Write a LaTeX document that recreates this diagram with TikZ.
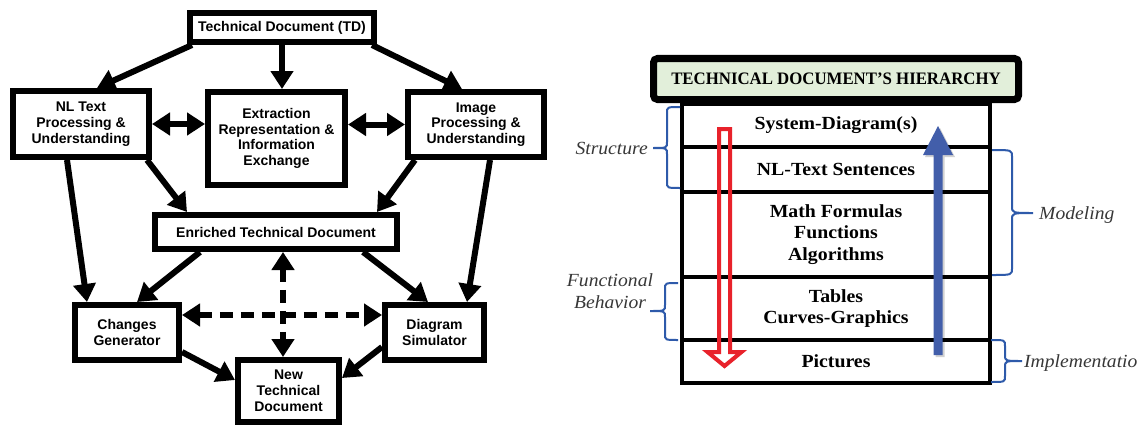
\documentclass[tikz,border=0pt]{standalone}
\usepackage{fontspec}
\setmainfont{Liberation Sans}
\newfontfamily\rowfont{Liberation Serif}[FakeStretch=1.07]
\newfontfamily\titlefont{Liberation Serif}[FakeStretch=0.96]
\newfontfamily\labfont{Liberation Serif}[FakeStretch=1.06]
\usetikzlibrary{arrows.meta}
\definecolor{titlegreen}{RGB}{226,239,218}
\definecolor{arrowred}{RGB}{232,34,43}
\definecolor{arrowblue}{RGB}{66,94,170}
\definecolor{bracec}{RGB}{46,90,170}
\definecolor{labgray}{RGB}{55,55,55}
\begin{document}
\begin{tikzpicture}[x=1pt,y=-1pt,
  box/.style={draw, line width=6pt, fill=white, align=center, inner sep=0pt,
    font=\bfseries\fontsize{14}{15.8}\selectfont},
  con/.style={line width=6pt, -{Triangle[length=18pt,width=22pt]}},
  dcon/.style={line width=6pt, {Triangle[length=18pt,width=22pt]}-{Triangle[length=18pt,width=22pt]}},
  dashcon/.style={dcon, dash pattern=on 13pt off 8pt},
  rowbox/.style={draw, line width=3.5pt, minimum width=308pt, inner sep=0pt, align=center,
    font=\rowfont\bfseries\fontsize{18.5}{21.5}\selectfont},
  brc/.style={draw=bracec, line width=2pt},
  lab/.style={inner sep=0pt, text=labgray, align=center,
    font=\labfont\itshape\fontsize{18.5}{22}\selectfont}
]
\useasboundingbox (0,0) rectangle (1147,428);
\fill[white] (0,0) rectangle (1147,428);

% ---------- left diagram ----------
\node[box, minimum width=184pt, minimum height=29pt] (td) at (282,27.5) {Technical Document (TD)};
\node[box, minimum width=136pt, minimum height=66pt] (nl) at (81,124) {NL Text\\Processing \&\\Understanding};
\node[box, minimum width=137pt, minimum height=93pt] (ext) at (276.5,138.5) {Extraction\\Representation \&\\Information\\Exchange};
\node[box, minimum width=136pt, minimum height=65pt] (img) at (476,124.5) {Image\\Processing \&\\Understanding};
\node[box, minimum width=242pt, minimum height=34pt] (enr) at (276,232) {Enriched Technical Document};
\node[box, minimum width=104pt, minimum height=55pt] (chg) at (127,332.5) {Changes\\Generator};
\node[box, minimum width=99pt, minimum height=55pt] (dia) at (434.5,332.5) {Diagram\\Simulator};
\node[box, minimum width=101pt, minimum height=62pt] (new) at (288.5,391) {New\\Technical\\Document};

\draw[con] ([xshift=5pt]td.south west) -- ([xshift=16pt]nl.north);
\draw[con] (td.south) -- (td.south |- ext.north);
\draw[con] ([xshift=-5pt]td.south east) -- ([xshift=-14pt]img.north);
\draw[dcon] (nl.east) -- (nl.east -| ext.west);
\draw[dcon] (img.west -| ext.east) -- (img.west);
\draw[con] ([xshift=-5pt]nl.south east) -- ([xshift=35pt]enr.north west);
\draw[con] ([xshift=10pt]img.south west) -- ([xshift=-23pt]enr.north east);
\draw[con] ([xshift=-14pt]nl.south) -- ([xshift=15pt]chg.north west);
\draw[con] ([xshift=14pt]img.south) -- ([xshift=-20pt]dia.north east);
\draw[con] ([xshift=48pt]enr.south west) -- ([xshift=10pt]chg.north);
\draw[con] ([xshift=-37pt]enr.south east) -- ([xshift=-6.5pt]dia.north);
\draw[con] ([yshift=11pt]chg.south east) -- ([yshift=11pt]new.west);
\draw[con] ([yshift=16pt]dia.south west) -- ([yshift=13pt]new.east);
\draw[dashcon] ([yshift=17.5pt]chg.east) -- ([yshift=17.5pt]dia.west);
\draw[dashcon] ([xshift=7pt]enr.south) -- ([xshift=-5.5pt]new.north);

% ---------- right diagram ----------
\node[rowbox, minimum height=43pt] (r1) at (836,125.5) {System-Diagram(s)};
\node[rowbox, minimum height=45pt] (r2) at (836,169.5) {NL-Text Sentences};
\node[rowbox, minimum height=85pt] (r3) at (836,234.5) {Math Formulas\\Functions\\Algorithms};
\node[rowbox, minimum height=63pt] (r4) at (836,308.5) {Tables\\Curves-Graphics};
\node[rowbox, minimum height=43pt] (r5) at (836,361.5) {Pictures};

\node[draw=black, line width=7pt, rounded corners=4pt, fill=titlegreen,
  minimum width=365pt, minimum height=41pt, inner sep=0pt,
  font=\titlefont\bfseries\fontsize{17.5}{20}\selectfont] (title) at (836,79) {TECHNICAL DOCUMENT’S HIERARCHY};

% red hollow arrow (downwards)
\draw[draw=arrowred, line width=4pt, line join=miter]
  (719,129) -- (730,129) -- (730,352) -- (741.5,352) -- (724.5,366) -- (707.5,352) -- (719,352) -- cycle;

% blue arrow (upwards)
\fill[black, opacity=0.18] (935.5,357) -- (935.5,157) -- (925,157) -- (940,128) -- (955,157) -- (944.5,157) -- (944.5,357) -- cycle;
\fill[arrowblue] (933.5,355) -- (933.5,155) -- (923,155) -- (938,126) -- (953,155) -- (942.5,155) -- (942.5,355) -- cycle;

% braces
\draw[brc] (680,107) .. controls (667,107) .. (667,113) -- (667,142) .. controls (667,148) .. (653,148)
  .. controls (667,148) .. (667,154) -- (667,182) .. controls (667,188) .. (680,188);
\draw[brc] (678,283) .. controls (665,283) .. (665,289) -- (665,305) .. controls (665,311) .. (650,311)
  .. controls (665,311) .. (665,317) -- (665,334) .. controls (665,340) .. (678,340);
\draw[brc] (992,150) .. controls (1012,150) .. (1012,157) -- (1012,206) .. controls (1012,213) .. (1033,213)
  .. controls (1012,213) .. (1012,220) -- (1012,268) .. controls (1012,275) .. (992,275);
\draw[brc] (991,340) .. controls (1005,340) .. (1005,346) -- (1005,355) .. controls (1005,361) .. (1022,361)
  .. controls (1005,361) .. (1005,367) -- (1005,376) .. controls (1005,382) .. (991,382);

\node[lab, anchor=base east] (lstruct) at (648,154) {Structure};
\node[lab, anchor=base] (lfunc) at (610,308) {Functional\\Behavior};
\node[lab, anchor=base west] (lmod) at (1039,219) {Modeling};
\node[lab, anchor=base west] (limp) at (1024,367) {Implementatio};
\end{tikzpicture}
\end{document}
